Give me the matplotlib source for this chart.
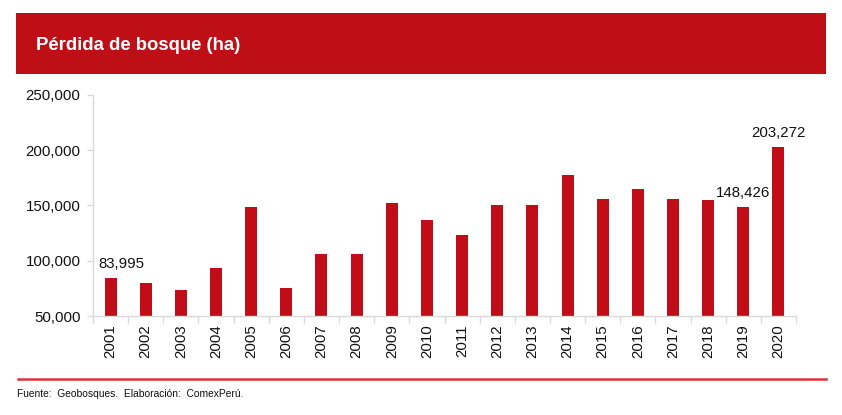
import matplotlib
matplotlib.use("Agg")
import matplotlib.pyplot as plt
from matplotlib.patches import Rectangle
from matplotlib.lines import Line2D
from matplotlib.ticker import FuncFormatter

years = [str(y) for y in range(2001, 2021)]
values = [83995, 79800, 73500, 93100, 148500, 75000, 106000, 106000, 152100, 136700,
          123500, 150000, 150900, 178000, 156300, 164500, 156300, 154800, 148426, 203272]
labeled = {"2001": 83995, "2019": 148426, "2020": 203272}

plt.rcParams['font.family'] = ['Liberation Sans', 'DejaVu Sans']

W, H = 842, 415
fig = plt.figure(figsize=(W / 100, H / 100), dpi=100)

# title banner
fig.patches.append(Rectangle((16 / W, 1 - 74 / H), (826 - 16) / W, (74 - 13) / H,
                             transform=fig.transFigure, facecolor='#BE0F17', edgecolor='none'))
fig.text(36 / W, 1 - 45 / H, "Pérdida de bosque (ha)", color='white', fontsize=13.3,
         fontweight='bold', va='center', ha='left')

ax = fig.add_axes([93 / W, 1 - 316 / H, (796 - 93) / W, (316 - 95) / H])
red = '#C00D17'
x = list(range(len(years)))
ax.bar(x, values, width=0.34, color=red, bottom=0)
ax.set_ylim(50000, 250000)
ax.set_xlim(-0.5, len(years) - 0.5)
ax.yaxis.set_major_formatter(FuncFormatter(lambda v, p: f"{int(v):,}"))
ax.set_yticks([50000, 100000, 150000, 200000, 250000])
ax.set_xticks(x)
ax.set_xticklabels(years, rotation=90)
ax.set_xticks([i - 0.5 for i in range(len(years) + 1)], minor=True)
ax.tick_params(axis='x', which='major', length=0, pad=6, labelsize=10.8, colors='#111111')
ax.tick_params(axis='x', which='minor', length=5, color='#D9D9D9', width=1)
ax.tick_params(axis='y', length=4, color='#D9D9D9', width=1, labelsize=10.8, colors='#111111', pad=5)
for s in ['top', 'right']:
    ax.spines[s].set_visible(False)
for s in ['left', 'bottom']:
    ax.spines[s].set_color('#D9D9D9')
    ax.spines[s].set_linewidth(1)

for i, (yr, v) in enumerate(zip(years, values)):
    if yr in labeled:
        dx = 8 if i == 0 else 0
        ax.annotate(f"{labeled[yr]:,}", (i, v), xytext=(dx, 5), textcoords='offset points',
                    ha='center', va='bottom', fontsize=10.8, color='#111111')

# footer
fig.add_artist(Line2D([18 / W, 826 / W], [1 - 378.5 / H, 1 - 378.5 / H], transform=fig.transFigure,
                      color='#D9323C', linewidth=1.8))
fig.text(17 / W, 1 - 394 / H, "Fuente:  Geobosques.  Elaboración:  ComexPerú.", fontsize=7.4,
         va='center', ha='left', color='#111111')

fig.savefig("out.png", dpi=100)
